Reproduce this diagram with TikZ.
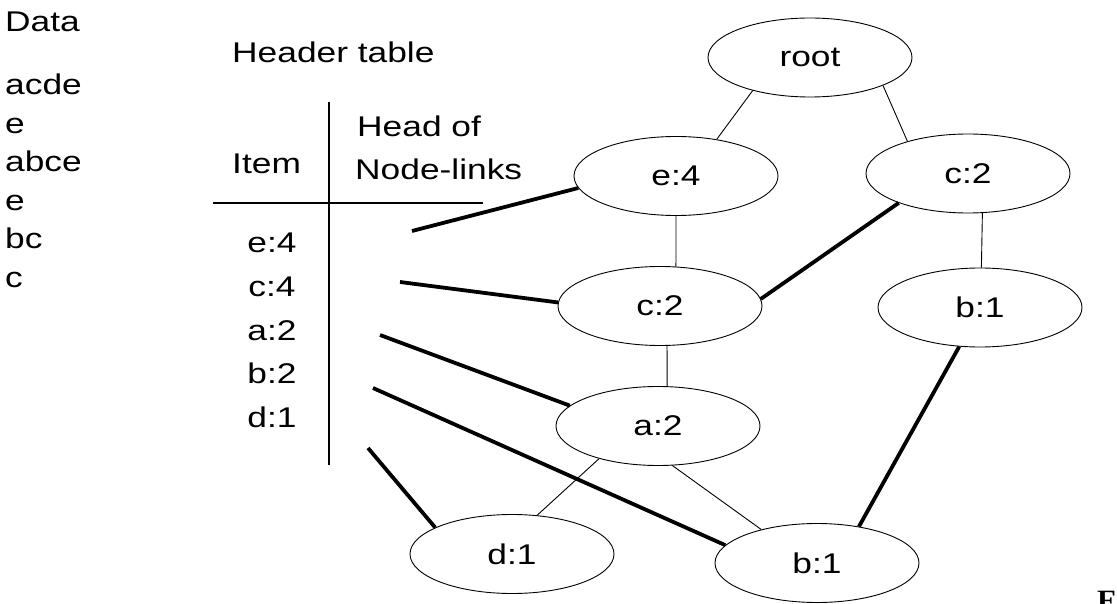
\documentclass[tikz,border=0pt]{standalone}
\usepackage{fontspec}
\setmainfont{Liberation Sans}[FakeStretch=1.24]
\newfontfamily\markserif{Liberation Serif}[FakeStretch=1.1]
\usetikzlibrary{shapes.geometric}

\begin{document}
\begin{tikzpicture}[x=1pt,y=-1pt,
  every node/.style={font=\fontsize{28.5}{34}\selectfont},
  txt/.style={anchor=base west, inner sep=0pt},
  itemtxt/.style={anchor=base, inner sep=0pt},
  treenode/.style={ellipse, draw, line width=0.9pt, minimum width=204pt,
                   minimum height=79pt, inner sep=2pt},
  treeedge/.style={line width=0.9pt},
  nodelink/.style={line width=3.8pt},
  rule/.style={line width=1.2pt}]
  \useasboundingbox (0,0) rectangle (1117,604);
  \clip (0,0) rectangle (1117,604);

  % transaction database
  \node[txt] (data) at (5,32) {Data};
  \node[txt] (t1) at (5,95)    {acde};
  \node[txt] (t2) at (5,133.5) {e};
  \node[txt] (t3) at (5,172)   {abce};
  \node[txt] (t4) at (5,210.5) {e};
  \node[txt] (t5) at (5,249)   {bc};
  \node[txt] (t6) at (5,287.5) {c};

  % header table
  \node[txt] (htitle) at (232,63) {Header table};
  \node[txt] (hitem) at (232,174) {Item};
  \node[txt] (hhead1) at (357,137) {Head of};
  \node[txt] (hhead2) at (355,180) {Node-links};
  \coordinate (vtop) at (329,102);
  \coordinate (vbot) at (329,465);
  \coordinate (hleft) at (213,203);
  \coordinate (hright) at (483,203);
  \draw[rule] (vtop) -- (vbot);
  \draw[rule] (hleft) -- (hright);

  \node[itemtxt] (ie) at (272,253) {e:4};
  \node[itemtxt] (ic) at (272,296) {c:4};
  \node[itemtxt] (ia) at (272,340) {a:2};
  \node[itemtxt] (ib) at (272,383) {b:2};
  \node[itemtxt] (id) at (272,427) {d:1};

  % FP-tree
  \node[treenode] (root) at (810,57.5) {root};
  \node[treenode] (e4)   at (676,176)  {e:4};
  \node[treenode] (c2a)  at (968,173.5) {c:2};
  \node[treenode] (c2b)  at (660,306)  {c:2};
  \node[treenode] (b1a)  at (980,307.5) {b:1};
  \node[treenode] (a2)   at (658,426)  {a:2};
  \node[treenode] (d1)   at (512,554)  {d:1};
  \node[treenode] (b1b)  at (817,563)  {b:1};

  \draw[treeedge] (root.210) -- (e4.42);
  \draw[treeedge] (root.339) -- (c2a.152);
  \draw[treeedge] (e4.270) -- (c2b.68);
  \draw[treeedge] (c2a.290) -- (b1a.88);
  \draw[treeedge] (c2b.280) -- (a2.77);
  \draw[treeedge] (a2.209) -- (d1.57);
  \draw[treeedge] (a2.290) -- (b1b.149);

  % node-links from the header table
  \coordinate (le) at (412,231);
  \coordinate (lc) at (400,282);
  \coordinate (la) at (380,335);
  \coordinate (lb) at (373,388);
  \coordinate (ld) at (368,448);
  \draw[nodelink] (le) -- (e4.187);
  \draw[nodelink] (lc) -- (c2b.178);
  \draw[nodelink] (la) -- (a2.167);
  \draw[nodelink] (lb) -- (b1b.169);
  \draw[nodelink] (ld) -- (d1.161);
  \draw[nodelink] (c2a.203.5) -- (c2b.4);
  \draw[nodelink] (b1a.242) -- (b1b.41);

  % figure mark in the corner
  \node[anchor=base west, inner sep=0pt, font=\markserif\bfseries\fontsize{28}{34}\selectfont] (fig) at (1097,609) {F};
\end{tikzpicture}
\end{document}
